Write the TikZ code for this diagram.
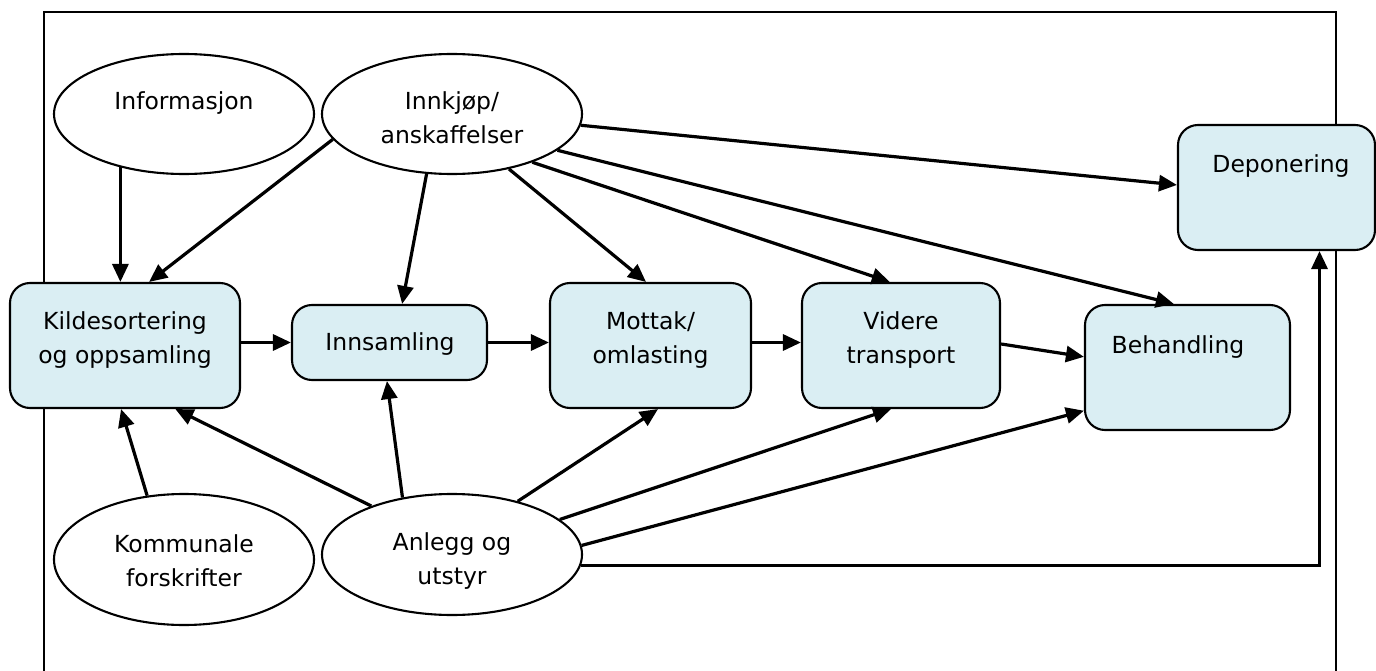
\documentclass[tikz,border=0pt]{standalone}
\usepackage{fontspec}
\setmainfont{DejaVu Sans}
\usetikzlibrary{arrows.meta,calc,shapes.geometric}
\definecolor{boxfill}{HTML}{DAEEF3}
\begin{document}
\begin{tikzpicture}[x=1pt,y=-1pt,
  box/.style={draw=black, line width=2.1pt, fill=boxfill, rounded corners=20pt, inner sep=0pt},
  oval/.style={draw=black, line width=2.1pt, fill=white, ellipse, inner sep=0pt, minimum width=260pt},
  txt/.style={font=\fontsize{23.5}{34}\selectfont, align=center, anchor=base, inner sep=0pt},
  conn/.style={line width=3.2pt, -{Triangle[length=18pt,width=16pt]}},
  frame/.style={line width=2.1pt}
]
\useasboundingbox (0,0) rectangle (1376,671);
\draw[frame] (44,671) -- (44,12) -- (1336,12) -- (1336,671);

% ellipses
\node[oval, minimum height=120pt] (info) at (184,114) {};
\node[oval, minimum height=120pt] (innk) at (452,114) {};
\node[oval, minimum height=131pt] (komm) at (184,559.5) {};
\node[oval, minimum height=121pt] (anl) at (452,554.5) {};

% boxes
\node[box, minimum width=230pt, minimum height=125pt] (kilde) at (125,345.5) {};
\node[box, minimum width=195pt, minimum height=75pt] (inns) at (389.5,342.5) {};
\node[box, minimum width=201pt, minimum height=125pt] (mott) at (650.5,345.5) {};
\node[box, minimum width=198pt, minimum height=125pt] (vid) at (901,345.5) {};
\node[box, minimum width=205pt, minimum height=125pt] (beh) at (1187.5,367.5) {};
\node[box, minimum width=197pt, minimum height=125pt] (dep) at (1276.5,187.5) {};

% connectors
\draw[conn] (info.220) -- (info.220 |- kilde.north);
\draw[conn] (innk.192) -- ($(kilde.north west)!0.604!(kilde.north east)$);
\draw[conn] (innk.247) -- ($(inns.north west)!0.564!(inns.north east)$);
\draw[conn] (innk.316) -- ($(mott.north west)!0.478!(mott.north east)$);
\draw[conn] (innk.329) -- ($(vid.north west)!0.444!(vid.north east)$);
\draw[conn] (innk.341) -- ($(beh.north west)!0.434!(beh.north east)$);
\draw[conn] (innk.355) -- ($(dep.north west)!0.48!(dep.south west)$);
\draw[conn] (inns.west -| kilde.east) -- (inns.west);
\draw[conn] (inns.east) -- (inns.east -| mott.west);
\draw[conn] (inns.east -| mott.east) -- (inns.east -| vid.west);
\draw[conn] ($(vid.north east)!0.488!(vid.south east)$) -- ($(beh.north west)!0.416!(beh.south west)$);
\draw[conn] (komm.120) -- ($(kilde.south west)!0.483!(kilde.south east)$);
\draw[conn] (anl.149) -- ($(kilde.south west)!0.717!(kilde.south east)$);
\draw[conn] (anl.131) -- ($(inns.south west)!0.487!(inns.south east)$);
\draw[conn] (anl.39) -- ($(mott.south west)!0.537!(mott.south east)$);
\draw[conn] (anl.18) -- ($(vid.south west)!0.45!(vid.south east)$);
\draw[conn] (anl.4) -- ($(beh.north west)!0.84!(beh.south west)$);
\draw[conn] (anl.355) -| ($(dep.south west)!0.716!(dep.south east)$);

% texts (base = baseline of last line)
\node[txt] (infoT) at (184,110) {Informasjon};
\node[txt] (innkT) at (452,144) {Innkjøp/\\anskaffelser};
\node[txt] (kommT) at (184,586) {Kommunale\\forskrifter};
\node[txt] (anlT) at (452,584) {Anlegg og\\utstyr};
\node[txt] (kildeT) at (125,363) {Kildesortering\\og oppsamling};
\node[txt] (innsT) at (390,350) {Innsamling};
\node[txt] (mottT) at (650.5,363) {Mottak/\\omlasting};
\node[txt] (vidT) at (901,363) {Videre\\transport};
\node[txt] (behT) at (1178,353) {Behandling};
\node[txt] (depT) at (1281,173) {Deponering};
\end{tikzpicture}
\end{document}
